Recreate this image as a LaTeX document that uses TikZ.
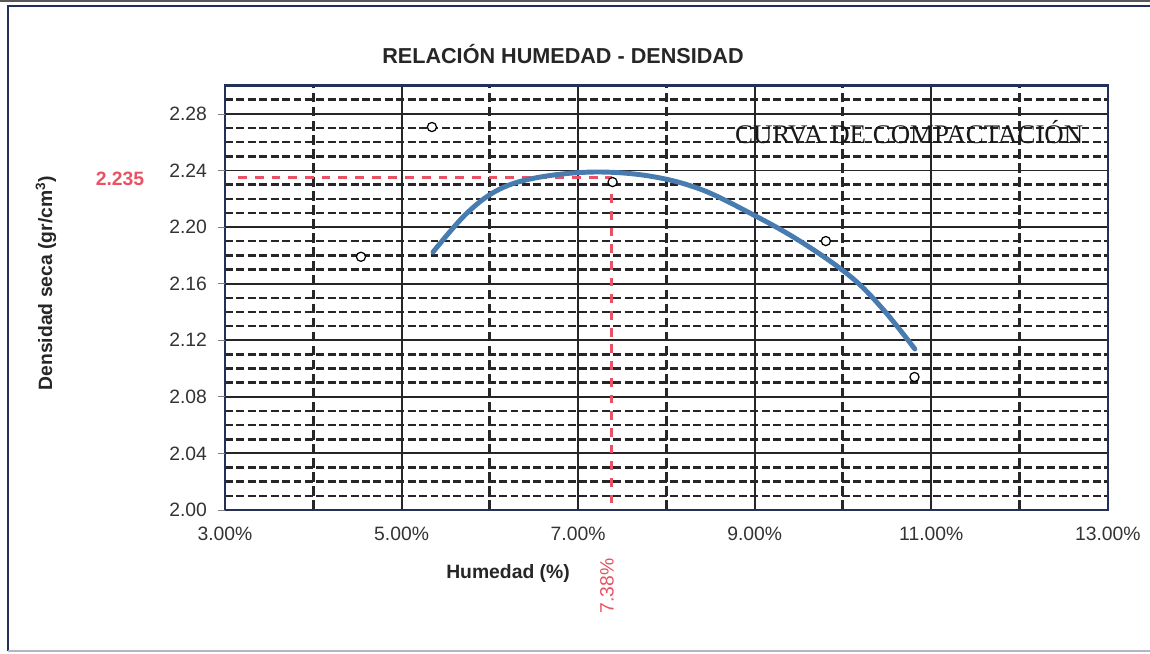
\documentclass[tikz,border=0pt]{standalone}
\usepackage{fontspec}
\setmainfont{Liberation Sans}
\newfontfamily\curvafont{Liberation Serif}
\usetikzlibrary{positioning}
\definecolor{framenavy}{RGB}{36,48,90}
\definecolor{gridgray}{RGB}{38,38,40}
\definecolor{optred}{RGB}{232,82,98}
\definecolor{curveblue}{RGB}{72,124,176}
\tikzstyle{major}=[gridgray, line width=1.1pt]
\tikzstyle{minor}=[gridgray, line width=1.4pt, dash pattern=on 4.5pt off 2pt]
\tikzstyle{vminor}=[gridgray, line width=1.7pt, dash pattern=on 5.5pt off 2.5pt]
\tikzstyle{optline}=[optred, line width=1.7pt, dash pattern=on 5pt off 4.5pt]
\tikzstyle{ticklabel}=[inner sep=0pt, text=black!80, font=\fontsize{11}{13}\selectfont]
\tikzstyle{axislabel}=[inner sep=0pt, text=black!85, font=\bfseries\fontsize{11}{13}\selectfont]
\tikzstyle{dot}=[circle, draw=black, fill=white, line width=0.7pt, inner sep=0pt, minimum size=5.2pt]

\begin{document}
\begin{tikzpicture}[x=0.02cm, y=-0.02cm]
\useasboundingbox (0,0) rectangle (1150,653);
% Frame
    \draw[gray!70!black, line width=1.6pt] (0,1) -- (1150,1);
    \draw[framenavy, line width=1.6pt] (8,651) -- (8,6) -- (1160,6);
    \draw[framenavy!35, line width=1.2pt] (8,651) -- (1160,651);
% Titles
    \node[axislabel, anchor=base, font=\bfseries\fontsize{12.3}{14}\selectfont] (title) at (563,63) {RELACIÓN HUMEDAD - DENSIDAD};
    \node[axislabel, anchor=base, rotate=90] (ylabel) at (52,283) {Densidad seca (gr/cm\textsuperscript{3})};
    \node[axislabel, anchor=base] (xlabel) at (508,578) {Humedad (\%)};
    \node[axislabel, text=optred] (dmax) at (120,179) {2.235};
    \node[ticklabel, text=optred, rotate=90] (wopt) at (607,586) {7.38\%};
\begin{scope}[shift={(225,510)}, x=1.766cm, y=0.283cm]
% Minor humidity lines
    \draw[vminor] (1,0) -- (1,30);
    \draw[vminor] (3,0) -- (3,30);
    \draw[vminor] (5,0) -- (5,30);
    \draw[vminor] (7,0) -- (7,30);
    \draw[vminor] (9,0) -- (9,30);
% Minor density lines
    \draw[minor] (0,1) -- (10,1);
    \draw[minor] (0,2) -- (10,2);
    \draw[minor] (0,3) -- (10,3);
    \draw[minor] (0,5) -- (10,5);
    \draw[minor] (0,6) -- (10,6);
    \draw[minor] (0,7) -- (10,7);
    \draw[minor] (0,9) -- (10,9);
    \draw[minor] (0,10) -- (10,10);
    \draw[minor] (0,11) -- (10,11);
    \draw[minor] (0,13) -- (10,13);
    \draw[minor] (0,14) -- (10,14);
    \draw[minor] (0,15) -- (10,15);
    \draw[minor] (0,17) -- (10,17);
    \draw[minor] (0,18) -- (10,18);
    \draw[minor] (0,19) -- (10,19);
    \draw[minor] (0,21) -- (10,21);
    \draw[minor] (0,22) -- (10,22);
    \draw[minor] (0,23) -- (10,23);
    \draw[minor] (0,25) -- (10,25);
    \draw[minor] (0,26) -- (10,26);
    \draw[minor] (0,27) -- (10,27);
    \draw[minor] (0,29) -- (10,29);
% Major lines
    \draw[major] (2,0) -- (2,30);
    \draw[major] (4,0) -- (4,30);
    \draw[major] (6,0) -- (6,30);
    \draw[major] (8,0) -- (8,30);
    \draw[major] (0,4) -- (10,4);
    \draw[major] (0,8) -- (10,8);
    \draw[major] (0,12) -- (10,12);
    \draw[major] (0,16) -- (10,16);
    \draw[major] (0,20) -- (10,20);
    \draw[major] (0,24) -- (10,24);
    \draw[major] (0,28) -- (10,28);
    \draw[framenavy, line width=1.4pt] (0,0) rectangle (10,30);
% Ticks
    \draw[black!50] (0,0) -- (-0.08,0);
    \draw[black!50] (0,4) -- (-0.08,4);
    \draw[black!50] (0,8) -- (-0.08,8);
    \draw[black!50] (0,12) -- (-0.08,12);
    \draw[black!50] (0,16) -- (-0.08,16);
    \draw[black!50] (0,20) -- (-0.08,20);
    \draw[black!50] (0,24) -- (-0.08,24);
    \draw[black!50] (0,28) -- (-0.08,28);
    \node[ticklabel, anchor=east] (y200) at (-0.2,0) {2.00};
    \node[ticklabel, anchor=east] (y204) at (-0.2,4) {2.04};
    \node[ticklabel, anchor=east] (y208) at (-0.2,8) {2.08};
    \node[ticklabel, anchor=east] (y212) at (-0.2,12) {2.12};
    \node[ticklabel, anchor=east] (y216) at (-0.2,16) {2.16};
    \node[ticklabel, anchor=east] (y220) at (-0.2,20) {2.20};
    \node[ticklabel, anchor=east] (y224) at (-0.2,24) {2.24};
    \node[ticklabel, anchor=east] (y228) at (-0.2,28) {2.28};
    \node[ticklabel, anchor=base] (x3) at (0,-2.17) {3.00\%};
    \node[ticklabel, anchor=base] (x5) at (2,-2.17) {5.00\%};
    \node[ticklabel, anchor=base] (x7) at (4,-2.17) {7.00\%};
    \node[ticklabel, anchor=base] (x9) at (6,-2.17) {9.00\%};
    \node[ticklabel, anchor=base] (x11) at (8,-2.17) {11.00\%};
    \node[ticklabel, anchor=base] (x13) at (10,-2.17) {13.00\%};
    \node[anchor=base, inner sep=0pt, text=black!90, font=\curvafont\fontsize{15.3}{17}\selectfont] (curvename) at (7.75,25.94) {CURVA DE COMPACTACIÓN};
% Optimum
    \coordinate (opt) at (4.38,23.5);
    \coordinate (optx) at (4.38,0);
    \coordinate (opty) at (0.15,23.5);
    \draw[optline] (opty) -- (opt);
    \draw[optline] (opt) -- (optx);
% Points
    \node[dot] (p1) at (2.344,27.07) {};
    \node[dot] (p2) at (1.54,17.90) {};
    \node[dot] (p3) at (6.806,19.01) {};
    \node[dot] (p4) at (7.81,9.40) {};
    \node[dot] (p5) at (4.39,23.18) {};
% Curve
    \draw[curveblue, line width=2.8pt, line cap=round] plot[smooth, tension=0.6] coordinates {(2.356,18.23) (2.741,20.99) (3.114,22.69) (3.567,23.53) (4.190,23.89) (4.813,23.60) (5.379,22.69) (5.946,20.99) (6.512,19.01) (7.078,16.54) (7.452,14.20) (7.814,11.38)};
\end{scope}
\end{tikzpicture}
\end{document}
